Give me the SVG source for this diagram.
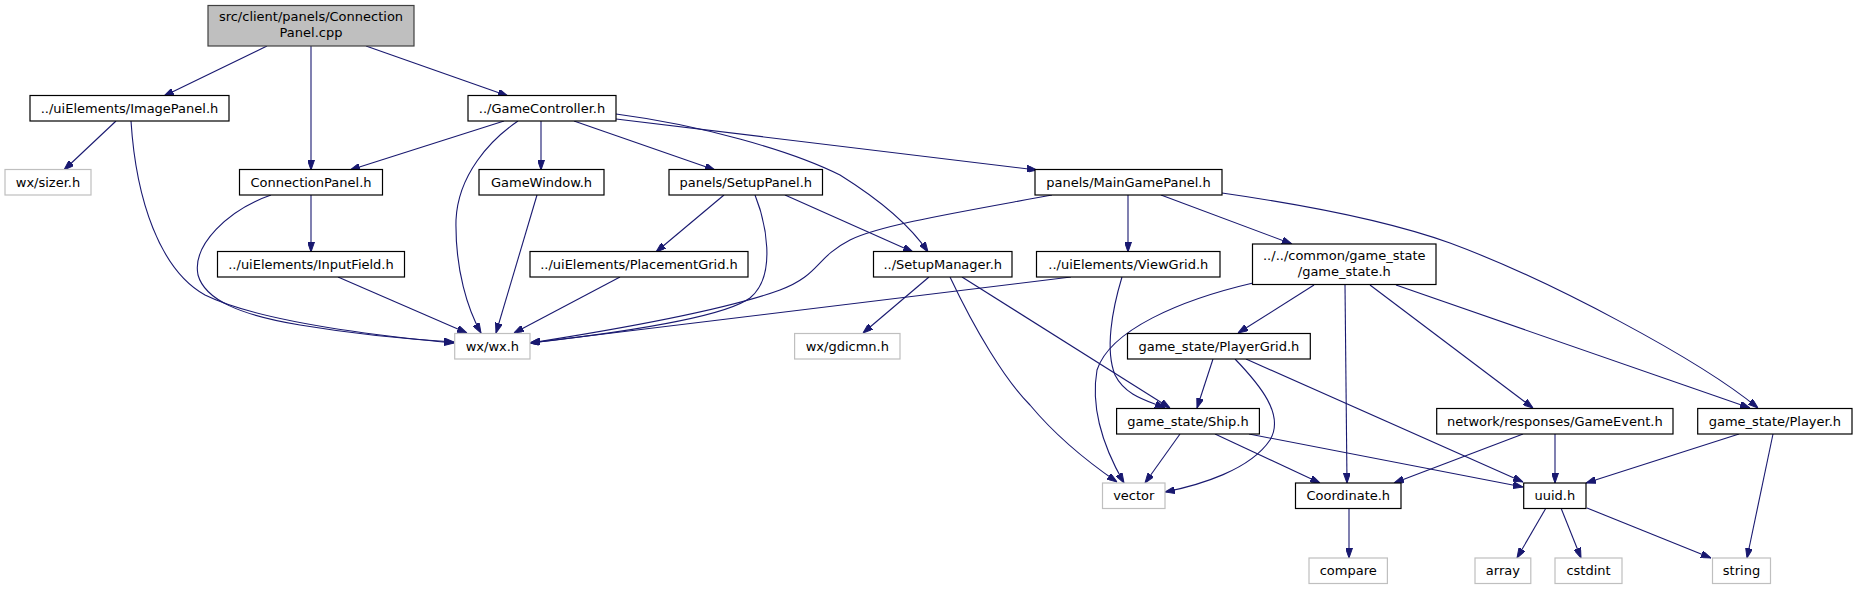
<svg xmlns="http://www.w3.org/2000/svg" width="1858" height="589" viewBox="0 0 1858 589">
<defs>
<marker id="ah" viewBox="0 0 10 7" refX="10" refY="3.5" markerWidth="10" markerHeight="7" markerUnits="userSpaceOnUse" orient="auto">
<path d="M0,0 L10,3.5 L0,7 z" fill="#191970" stroke="#191970" stroke-width="1"/>
</marker>
<style>
.n rect{fill:#fff;stroke:#000;stroke-width:1.2}
.g rect{fill:#fff;stroke:#bfbfbf;stroke-width:1.2}
.r rect{fill:#bfbfbf;stroke:#404040;stroke-width:1.2}
text{font-family:"DejaVu Sans","Liberation Sans",sans-serif;font-size:13px;fill:#000;text-anchor:middle}
#edges path{fill:none;stroke:#191970;stroke-width:1.1;marker-end:url(#ah)}
</style>
</defs>
<rect width="1858" height="589" fill="#fff"/>
<g id="edges">
<path d="M267,46 L164,96"/>
<path d="M311,46 L311,170"/>
<path d="M366,46 L508,96"/>
<path d="M116,121 L64,170"/>
<path d="M131,121 C136,200 160,270 205,295 C260,322 380,336 454,343"/>
<path d="M271,195 C228,210 192,245 198,275 C205,300 240,315 300,325 C360,335 420,340 454,342"/>
<path d="M311,195 L311,252"/>
<path d="M338,277 L467,333"/>
<path d="M504,121 L350,170"/>
<path d="M518,121 C490,140 458,175 456,220 C455,270 468,310 481,333"/>
<path d="M541,121 L541,170"/>
<path d="M574,121 L715,170"/>
<path d="M616,119 L1037,170"/>
<path d="M616,114 C700,125 790,150 840,175 C880,200 910,225 928,252"/>
<path d="M537,195 L496,333"/>
<path d="M724,195 L656,252"/>
<path d="M755,195 C765,220 778,275 750,298 C720,320 600,335 530,343"/>
<path d="M785,195 L913,252"/>
<path d="M620,277 L514,333"/>
<path d="M1052,195 C960,212 880,225 850,240 C815,258 820,275 780,290 C720,312 600,332 530,343"/>
<path d="M1128,195 L1128,252"/>
<path d="M1161,195 L1292,244"/>
<path d="M1222,193 C1320,207 1400,225 1450,243 C1550,280 1700,360 1758,408"/>
<path d="M1071,277 L530,343"/>
<path d="M929,277 L863,333"/>
<path d="M950,277 C975,330 1005,380 1030,405 C1055,435 1085,460 1117,482"/>
<path d="M962,277 L1170,408"/>
<path d="M1122,277 C1112,310 1105,350 1115,375 C1125,395 1145,400 1165,408"/>
<path d="M1253,283 C1180,300 1110,330 1097,370 C1090,410 1105,450 1124,483"/>
<path d="M1314,285 L1238,333"/>
<path d="M1345,285 L1347,483"/>
<path d="M1370,285 L1533,408"/>
<path d="M1396,285 L1750,408"/>
<path d="M1213,359 L1197,408"/>
<path d="M1235,359 C1260,385 1285,415 1270,440 C1250,470 1200,485 1165,492"/>
<path d="M1246,359 L1523,482"/>
<path d="M1180,434 L1145,483"/>
<path d="M1215,434 L1320,483"/>
<path d="M1249,434 L1523,487"/>
<path d="M1523,434 L1394,483"/>
<path d="M1555,434 L1555,483"/>
<path d="M1739,434 L1586,483"/>
<path d="M1773,434 L1747,558"/>
<path d="M1349,508 L1349,558"/>
<path d="M1546,508 L1517,558"/>
<path d="M1561,508 L1581,558"/>
<path d="M1587,508 L1711,558"/>
</g>
<g id="root" class="r"><rect x="208" y="5.5" width="206" height="40.5"/><text x="311" y="21">src/client/panels/Connection</text><text x="311" y="36.5">Panel.cpp</text></g>
<g id="imagepanel" class="n"><rect x="30" y="95.5" width="199" height="25.5"/><text x="129.5" y="112.5">../uiElements/ImagePanel.h</text></g>
<g id="gamecontroller" class="n"><rect x="468" y="95.5" width="148" height="25.5"/><text x="542" y="112.5">../GameController.h</text></g>
<g id="sizer" class="g"><rect x="5" y="169.5" width="86" height="25.5"/><text x="48" y="186.5">wx/sizer.h</text></g>
<g id="connectionpanel" class="n"><rect x="239.5" y="169.5" width="143" height="25.5"/><text x="311" y="186.5">ConnectionPanel.h</text></g>
<g id="gamewindow" class="n"><rect x="479" y="169.5" width="125" height="25.5"/><text x="541.5" y="186.5">GameWindow.h</text></g>
<g id="setuppanel" class="n"><rect x="669" y="169.5" width="153.5" height="25.5"/><text x="745.8" y="186.5">panels/SetupPanel.h</text></g>
<g id="maingamepanel" class="n"><rect x="1035" y="169.5" width="187" height="25.5"/><text x="1128.5" y="186.5">panels/MainGamePanel.h</text></g>
<g id="inputfield" class="n"><rect x="217.5" y="251.5" width="187" height="25.5"/><text x="311" y="268.5">../uiElements/InputField.h</text></g>
<g id="placementgrid" class="n"><rect x="530" y="251.5" width="218" height="25.5"/><text x="639" y="268.5">../uiElements/PlacementGrid.h</text></g>
<g id="setupmanager" class="n"><rect x="873.5" y="251.5" width="138.5" height="25.5"/><text x="942.8" y="268.5">../SetupManager.h</text></g>
<g id="viewgrid" class="n"><rect x="1036.5" y="251.5" width="183.5" height="25.5"/><text x="1128.3" y="268.5">../uiElements/ViewGrid.h</text></g>
<g id="gamestate" class="n"><rect x="1252.5" y="244" width="183.5" height="40.5"/><text x="1344.3" y="260">../../common/game_state</text><text x="1344.3" y="275.5">/game_state.h</text></g>
<g id="wxwx" class="g"><rect x="454.7" y="333.5" width="75.3" height="25.5"/><text x="492.4" y="350.5">wx/wx.h</text></g>
<g id="gdicmn" class="g"><rect x="794.6" y="333.5" width="105.4" height="25.5"/><text x="847.3" y="350.5">wx/gdicmn.h</text></g>
<g id="playergrid" class="n"><rect x="1127.5" y="333.5" width="182.8" height="25.5"/><text x="1218.9" y="350.5">game_state/PlayerGrid.h</text></g>
<g id="ship" class="n"><rect x="1116.6" y="408.5" width="142.8" height="25.5"/><text x="1188" y="425.5">game_state/Ship.h</text></g>
<g id="gameevent" class="n"><rect x="1436.7" y="408.5" width="236.3" height="25.5"/><text x="1554.9" y="425.5">network/responses/GameEvent.h</text></g>
<g id="player" class="n"><rect x="1697.7" y="408.5" width="154.3" height="25.5"/><text x="1774.9" y="425.5">game_state/Player.h</text></g>
<g id="vector" class="g"><rect x="1102.5" y="483" width="62.5" height="25.5"/><text x="1133.8" y="500">vector</text></g>
<g id="coordinate" class="n"><rect x="1295.5" y="483" width="105.5" height="25.5"/><text x="1348.3" y="500">Coordinate.h</text></g>
<g id="uuid" class="n"><rect x="1523.7" y="483" width="62.3" height="25.5"/><text x="1554.9" y="500">uuid.h</text></g>
<g id="compare" class="g"><rect x="1309" y="558" width="78.4" height="25.5"/><text x="1348.2" y="575">compare</text></g>
<g id="array" class="g"><rect x="1475" y="558" width="55.8" height="25.5"/><text x="1502.9" y="575">array</text></g>
<g id="cstdint" class="g"><rect x="1555" y="558" width="67" height="25.5"/><text x="1588.5" y="575">cstdint</text></g>
<g id="string" class="g"><rect x="1712.5" y="558" width="58" height="25.5"/><text x="1741.5" y="575">string</text></g>
</svg>
